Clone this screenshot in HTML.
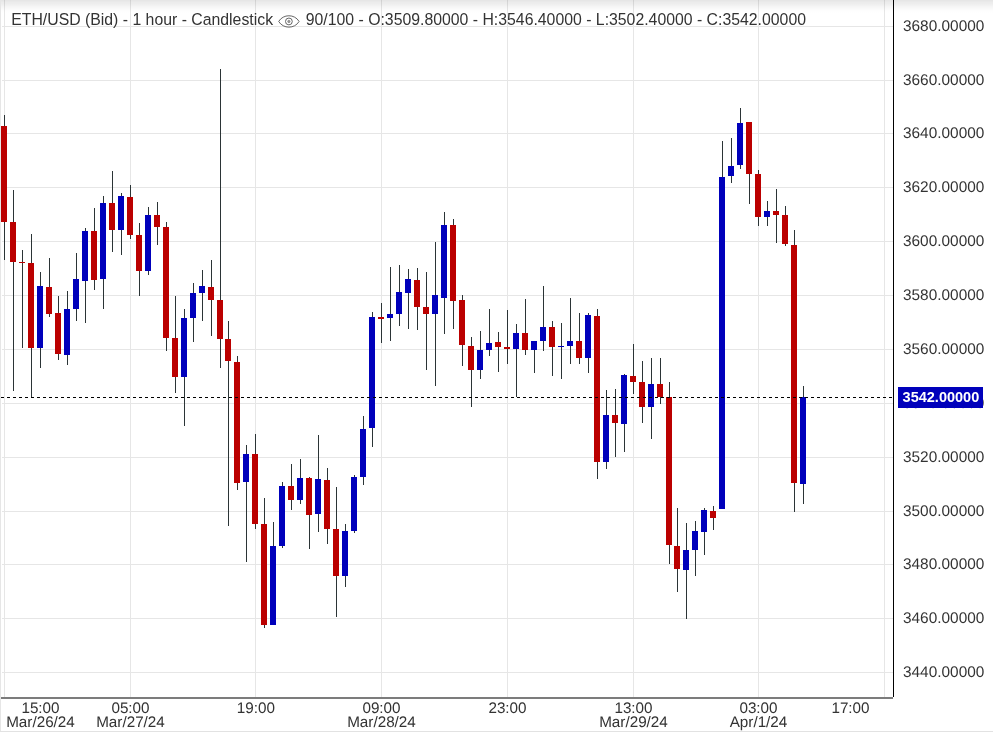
<!DOCTYPE html>
<html><head><meta charset="utf-8"><title>ETH/USD chart</title>
<style>
html,body{margin:0;padding:0;background:#fff;}
body{width:993px;height:732px;position:relative;overflow:hidden;font-family:"Liberation Sans",sans-serif;font-size:15.4px;color:#333;}
#plot{position:absolute;left:0;top:0;width:893px;height:698px;overflow:hidden;}
i{position:absolute;display:block;}
.vg{top:0;width:1px;height:698px;background:#e6e6e6;}
.hg{left:2px;width:891px;height:1px;background:#e6e6e6;}
.w{width:1px;background:#2b3436;}
.b{width:6px;}
#shade{position:absolute;left:0;top:0;width:993px;height:13px;background:linear-gradient(rgba(0,0,0,.105) 0,rgba(0,0,0,.08) 2px,rgba(0,0,0,.065) 4px,rgba(0,0,0,.035) 7px,rgba(0,0,0,.013) 10px,rgba(0,0,0,0) 13px);}
#lft{position:absolute;left:0;top:0;width:1px;height:732px;background:#e6e6e6;}
#yaxis{position:absolute;left:893px;top:0;width:1px;height:697px;background:#000;}
#xaxis{position:absolute;left:1px;top:697px;width:892px;height:2px;background:#7c7c7c;}
#bot{position:absolute;left:0;top:731px;width:993px;height:1px;background:#e2e2e2;}
.pl{position:absolute;left:903px;width:90px;height:18px;line-height:18px;white-space:nowrap;text-rendering:geometricPrecision;}
.tl{position:absolute;top:702px;font-size:15.25px;text-rendering:geometricPrecision;width:100px;text-align:center;line-height:14px;white-space:nowrap;}
#title{position:absolute;left:11.2px;top:10px;height:20px;line-height:20px;white-space:nowrap;font-size:15.82px;}
#dash{position:absolute;left:1px;top:397px;width:892px;height:1px;background:repeating-linear-gradient(90deg,#000 0,#000 3px,transparent 3px,transparent 6px);}
#mark{position:absolute;left:898px;top:387px;width:85px;height:21px;background:#0000bb;color:#fff;font-weight:bold;font-size:14.5px;line-height:20px;text-align:left;padding-left:4.6px;box-sizing:border-box;white-space:nowrap;}
#eye{display:inline-block;vertical-align:middle;width:24px;height:14px;margin:0 5px 0 3.7px;position:relative;top:0;overflow:visible}
</style></head><body>
<div id="plot">
<i class="vg" style="left:4px"></i>
<i class="vg" style="left:130px"></i>
<i class="vg" style="left:255px"></i>
<i class="vg" style="left:381px"></i>
<i class="vg" style="left:507px"></i>
<i class="vg" style="left:633px"></i>
<i class="vg" style="left:758px"></i>
<i class="vg" style="left:884px"></i>
<i class="hg" style="top:26px"></i>
<i class="hg" style="top:80px"></i>
<i class="hg" style="top:133px"></i>
<i class="hg" style="top:187px"></i>
<i class="hg" style="top:241px"></i>
<i class="hg" style="top:295px"></i>
<i class="hg" style="top:349px"></i>
<i class="hg" style="top:403px"></i>
<i class="hg" style="top:457px"></i>
<i class="hg" style="top:511px"></i>
<i class="hg" style="top:564px"></i>
<i class="hg" style="top:618px"></i>
<i class="hg" style="top:672px"></i>
<i class="w" style="left:4px;top:115px;height:145px"></i><i class="b" style="left:1px;top:126px;height:96px;background:#bb0000"></i>
<i class="w" style="left:13px;top:190px;height:201px"></i><i class="b" style="left:10px;top:222px;height:40px;background:#bb0000"></i>
<i class="w" style="left:22px;top:250px;height:98px"></i><i class="b" style="left:19px;top:262px;height:1px;background:#bb0000"></i>
<i class="w" style="left:31px;top:234px;height:163px"></i><i class="b" style="left:28px;top:263px;height:85px;background:#bb0000"></i>
<i class="w" style="left:40px;top:272px;height:96px"></i><i class="b" style="left:37px;top:286px;height:62px;background:#0000bb"></i>
<i class="w" style="left:49px;top:258px;height:59px"></i><i class="b" style="left:46px;top:287px;height:27px;background:#bb0000"></i>
<i class="w" style="left:58px;top:296px;height:64px"></i><i class="b" style="left:55px;top:313px;height:41px;background:#bb0000"></i>
<i class="w" style="left:67px;top:291px;height:74px"></i><i class="b" style="left:64px;top:309px;height:46px;background:#0000bb"></i>
<i class="w" style="left:76px;top:253px;height:68px"></i><i class="b" style="left:73px;top:279px;height:30px;background:#0000bb"></i>
<i class="w" style="left:85px;top:228px;height:95px"></i><i class="b" style="left:82px;top:231px;height:50px;background:#0000bb"></i>
<i class="w" style="left:94px;top:208px;height:82px"></i><i class="b" style="left:91px;top:231px;height:49px;background:#bb0000"></i>
<i class="w" style="left:103px;top:196px;height:113px"></i><i class="b" style="left:100px;top:203px;height:76px;background:#0000bb"></i>
<i class="w" style="left:112px;top:171px;height:81px"></i><i class="b" style="left:109px;top:203px;height:27px;background:#bb0000"></i>
<i class="w" style="left:121px;top:193px;height:62px"></i><i class="b" style="left:118px;top:196px;height:34px;background:#0000bb"></i>
<i class="w" style="left:130px;top:185px;height:54px"></i><i class="b" style="left:127px;top:197px;height:38px;background:#bb0000"></i>
<i class="w" style="left:139px;top:223px;height:73px"></i><i class="b" style="left:136px;top:235px;height:36px;background:#bb0000"></i>
<i class="w" style="left:148px;top:207px;height:68px"></i><i class="b" style="left:145px;top:215px;height:56px;background:#0000bb"></i>
<i class="w" style="left:157px;top:202px;height:43px"></i><i class="b" style="left:154px;top:215px;height:12px;background:#bb0000"></i>
<i class="w" style="left:166px;top:222px;height:129px"></i><i class="b" style="left:163px;top:227px;height:111px;background:#bb0000"></i>
<i class="w" style="left:175px;top:296px;height:97px"></i><i class="b" style="left:172px;top:338px;height:39px;background:#bb0000"></i>
<i class="w" style="left:184px;top:309px;height:117px"></i><i class="b" style="left:181px;top:318px;height:59px;background:#0000bb"></i>
<i class="w" style="left:193px;top:283px;height:59px"></i><i class="b" style="left:190px;top:293px;height:25px;background:#0000bb"></i>
<i class="w" style="left:202px;top:270px;height:51px"></i><i class="b" style="left:199px;top:286px;height:7px;background:#0000bb"></i>
<i class="w" style="left:211px;top:260px;height:76px"></i><i class="b" style="left:208px;top:287px;height:13px;background:#bb0000"></i>
<i class="w" style="left:220px;top:69px;height:299px"></i><i class="b" style="left:217px;top:300px;height:39px;background:#bb0000"></i>
<i class="w" style="left:228px;top:321px;height:205px"></i><i class="b" style="left:225px;top:339px;height:22px;background:#bb0000"></i>
<i class="w" style="left:237px;top:356px;height:134px"></i><i class="b" style="left:234px;top:362px;height:121px;background:#bb0000"></i>
<i class="w" style="left:246px;top:445px;height:117px"></i><i class="b" style="left:243px;top:454px;height:28px;background:#0000bb"></i>
<i class="w" style="left:255px;top:434px;height:95px"></i><i class="b" style="left:252px;top:454px;height:70px;background:#bb0000"></i>
<i class="w" style="left:264px;top:498px;height:130px"></i><i class="b" style="left:261px;top:524px;height:101px;background:#bb0000"></i>
<i class="w" style="left:273px;top:522px;height:103px"></i><i class="b" style="left:270px;top:546px;height:79px;background:#0000bb"></i>
<i class="w" style="left:282px;top:482px;height:66px"></i><i class="b" style="left:279px;top:486px;height:60px;background:#0000bb"></i>
<i class="w" style="left:291px;top:464px;height:46px"></i><i class="b" style="left:288px;top:486px;height:14px;background:#bb0000"></i>
<i class="w" style="left:300px;top:459px;height:45px"></i><i class="b" style="left:297px;top:478px;height:22px;background:#0000bb"></i>
<i class="w" style="left:309px;top:477px;height:72px"></i><i class="b" style="left:306px;top:478px;height:37px;background:#bb0000"></i>
<i class="w" style="left:318px;top:435px;height:97px"></i><i class="b" style="left:315px;top:479px;height:35px;background:#0000bb"></i>
<i class="w" style="left:327px;top:468px;height:76px"></i><i class="b" style="left:324px;top:480px;height:49px;background:#bb0000"></i>
<i class="w" style="left:336px;top:487px;height:130px"></i><i class="b" style="left:333px;top:529px;height:47px;background:#bb0000"></i>
<i class="w" style="left:345px;top:524px;height:63px"></i><i class="b" style="left:342px;top:531px;height:45px;background:#0000bb"></i>
<i class="w" style="left:354px;top:475px;height:58px"></i><i class="b" style="left:351px;top:477px;height:54px;background:#0000bb"></i>
<i class="w" style="left:363px;top:416px;height:69px"></i><i class="b" style="left:360px;top:429px;height:48px;background:#0000bb"></i>
<i class="w" style="left:372px;top:312px;height:135px"></i><i class="b" style="left:369px;top:317px;height:111px;background:#0000bb"></i>
<i class="w" style="left:381px;top:303px;height:40px"></i><i class="b" style="left:378px;top:317px;height:2px;background:#bb0000"></i>
<i class="w" style="left:390px;top:267px;height:74px"></i><i class="b" style="left:387px;top:314px;height:4px;background:#0000bb"></i>
<i class="w" style="left:399px;top:265px;height:61px"></i><i class="b" style="left:396px;top:292px;height:22px;background:#0000bb"></i>
<i class="w" style="left:408px;top:269px;height:60px"></i><i class="b" style="left:405px;top:279px;height:14px;background:#0000bb"></i>
<i class="w" style="left:417px;top:268px;height:62px"></i><i class="b" style="left:414px;top:280px;height:27px;background:#bb0000"></i>
<i class="w" style="left:426px;top:272px;height:98px"></i><i class="b" style="left:423px;top:307px;height:7px;background:#bb0000"></i>
<i class="w" style="left:435px;top:242px;height:144px"></i><i class="b" style="left:432px;top:295px;height:19px;background:#0000bb"></i>
<i class="w" style="left:444px;top:212px;height:122px"></i><i class="b" style="left:441px;top:225px;height:73px;background:#0000bb"></i>
<i class="w" style="left:453px;top:219px;height:110px"></i><i class="b" style="left:450px;top:225px;height:76px;background:#bb0000"></i>
<i class="w" style="left:462px;top:295px;height:71px"></i><i class="b" style="left:459px;top:300px;height:45px;background:#bb0000"></i>
<i class="w" style="left:471px;top:337px;height:70px"></i><i class="b" style="left:468px;top:346px;height:24px;background:#bb0000"></i>
<i class="w" style="left:480px;top:331px;height:48px"></i><i class="b" style="left:477px;top:350px;height:20px;background:#0000bb"></i>
<i class="w" style="left:489px;top:309px;height:47px"></i><i class="b" style="left:486px;top:343px;height:7px;background:#0000bb"></i>
<i class="w" style="left:498px;top:332px;height:40px"></i><i class="b" style="left:495px;top:342px;height:5px;background:#bb0000"></i>
<i class="w" style="left:507px;top:310px;height:54px"></i><i class="b" style="left:504px;top:347px;height:2px;background:#bb0000"></i>
<i class="w" style="left:516px;top:324px;height:73px"></i><i class="b" style="left:513px;top:333px;height:16px;background:#0000bb"></i>
<i class="w" style="left:525px;top:299px;height:56px"></i><i class="b" style="left:522px;top:333px;height:17px;background:#bb0000"></i>
<i class="w" style="left:534px;top:341px;height:32px"></i><i class="b" style="left:531px;top:341px;height:9px;background:#0000bb"></i>
<i class="w" style="left:543px;top:286px;height:65px"></i><i class="b" style="left:540px;top:327px;height:14px;background:#0000bb"></i>
<i class="w" style="left:552px;top:321px;height:55px"></i><i class="b" style="left:549px;top:327px;height:20px;background:#bb0000"></i>
<i class="w" style="left:561px;top:323px;height:56px"></i><i class="b" style="left:558px;top:346px;height:1px;background:#0000bb"></i>
<i class="w" style="left:570px;top:298px;height:66px"></i><i class="b" style="left:567px;top:341px;height:5px;background:#0000bb"></i>
<i class="w" style="left:579px;top:313px;height:51px"></i><i class="b" style="left:576px;top:341px;height:17px;background:#bb0000"></i>
<i class="w" style="left:588px;top:313px;height:60px"></i><i class="b" style="left:585px;top:315px;height:43px;background:#0000bb"></i>
<i class="w" style="left:597px;top:309px;height:170px"></i><i class="b" style="left:594px;top:316px;height:146px;background:#bb0000"></i>
<i class="w" style="left:606px;top:390px;height:79px"></i><i class="b" style="left:603px;top:415px;height:47px;background:#0000bb"></i>
<i class="w" style="left:615px;top:389px;height:68px"></i><i class="b" style="left:612px;top:415px;height:8px;background:#bb0000"></i>
<i class="w" style="left:624px;top:374px;height:78px"></i><i class="b" style="left:621px;top:375px;height:49px;background:#0000bb"></i>
<i class="w" style="left:633px;top:344px;height:50px"></i><i class="b" style="left:630px;top:376px;height:6px;background:#bb0000"></i>
<i class="w" style="left:642px;top:361px;height:62px"></i><i class="b" style="left:639px;top:382px;height:25px;background:#bb0000"></i>
<i class="w" style="left:651px;top:358px;height:81px"></i><i class="b" style="left:648px;top:384px;height:23px;background:#0000bb"></i>
<i class="w" style="left:660px;top:358px;height:46px"></i><i class="b" style="left:657px;top:384px;height:13px;background:#bb0000"></i>
<i class="w" style="left:669px;top:382px;height:182px"></i><i class="b" style="left:666px;top:397px;height:148px;background:#bb0000"></i>
<i class="w" style="left:677px;top:508px;height:84px"></i><i class="b" style="left:674px;top:546px;height:23px;background:#bb0000"></i>
<i class="w" style="left:686px;top:523px;height:96px"></i><i class="b" style="left:683px;top:550px;height:20px;background:#0000bb"></i>
<i class="w" style="left:695px;top:521px;height:55px"></i><i class="b" style="left:692px;top:531px;height:19px;background:#0000bb"></i>
<i class="w" style="left:704px;top:508px;height:47px"></i><i class="b" style="left:701px;top:510px;height:22px;background:#0000bb"></i>
<i class="w" style="left:713px;top:506px;height:24px"></i><i class="b" style="left:710px;top:511px;height:7px;background:#bb0000"></i>
<i class="w" style="left:722px;top:141px;height:368px"></i><i class="b" style="left:719px;top:177px;height:332px;background:#0000bb"></i>
<i class="w" style="left:731px;top:138px;height:45px"></i><i class="b" style="left:728px;top:166px;height:10px;background:#0000bb"></i>
<i class="w" style="left:740px;top:108px;height:61px"></i><i class="b" style="left:737px;top:123px;height:42px;background:#0000bb"></i>
<i class="w" style="left:749px;top:122px;height:82px"></i><i class="b" style="left:746px;top:122px;height:52px;background:#bb0000"></i>
<i class="w" style="left:758px;top:170px;height:56px"></i><i class="b" style="left:755px;top:174px;height:43px;background:#bb0000"></i>
<i class="w" style="left:767px;top:201px;height:25px"></i><i class="b" style="left:764px;top:211px;height:6px;background:#0000bb"></i>
<i class="w" style="left:776px;top:189px;height:54px"></i><i class="b" style="left:773px;top:211px;height:4px;background:#bb0000"></i>
<i class="w" style="left:785px;top:206px;height:40px"></i><i class="b" style="left:782px;top:215px;height:29px;background:#bb0000"></i>
<i class="w" style="left:794px;top:230px;height:282px"></i><i class="b" style="left:791px;top:245px;height:238px;background:#bb0000"></i>
<i class="w" style="left:803px;top:386px;height:118px"></i><i class="b" style="left:800px;top:397px;height:87px;background:#0000bb"></i>
</div>
<div id="shade"></div><div id="lft"></div>
<div id="dash"></div>
<div id="yaxis"></div>
<div id="xaxis"></div>
<div id="title">ETH/USD (Bid) - 1 hour - Candlestick<svg id="eye" viewBox="0 0 24 14"><g transform="translate(-0.1,0.45)"><path d="M1.8 7 C6.3 -0.6 17.7 -0.6 22.2 7 C17.7 14.6 6.3 14.6 1.8 7 Z" fill="none" stroke="#666" stroke-width="1"/><circle cx="12" cy="7" r="3.4" fill="none" stroke="#666" stroke-width="1"/><circle cx="12" cy="7" r="1.2" fill="#999" stroke="#777" stroke-width="0.6"/></g></svg>90/100 - O:3509.80000 - H:3546.40000 - L:3502.40000 - C:3542.00000</div>
<div class="pl" style="top:18px">3680.00000</div>
<div class="pl" style="top:72px">3660.00000</div>
<div class="pl" style="top:125px">3640.00000</div>
<div class="pl" style="top:179px">3620.00000</div>
<div class="pl" style="top:233px">3600.00000</div>
<div class="pl" style="top:287px">3580.00000</div>
<div class="pl" style="top:341px">3560.00000</div>
<div class="pl" style="top:395px">3540.00000</div>
<div class="pl" style="top:449px">3520.00000</div>
<div class="pl" style="top:503px">3500.00000</div>
<div class="pl" style="top:556px">3480.00000</div>
<div class="pl" style="top:610px">3460.00000</div>
<div class="pl" style="top:664px">3440.00000</div>
<div id="mark">3542.00000</div>
<div class="tl" style="left:-9.5px">15:00<br>Mar/26/24</div>
<div class="tl" style="left:80.5px">05:00<br>Mar/27/24</div>
<div class="tl" style="left:205.8px">19:00<br></div>
<div class="tl" style="left:331.5px">09:00<br>Mar/28/24</div>
<div class="tl" style="left:457.5px">23:00<br></div>
<div class="tl" style="left:583.5px">13:00<br>Mar/29/24</div>
<div class="tl" style="left:708.5px">03:00<br>Apr/1/24</div>
<div class="tl" style="left:800.5px">17:00<br></div>
<div id="bot"></div>
</body></html>
